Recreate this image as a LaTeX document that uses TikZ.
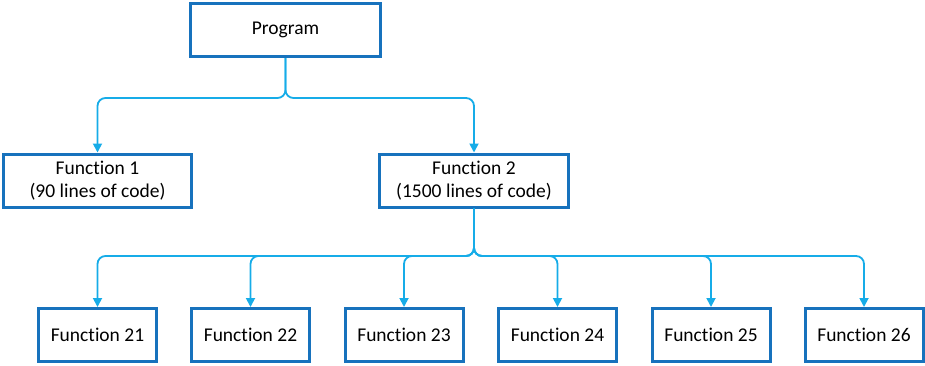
\documentclass[tikz,border=0pt]{standalone}
\usepackage{fontspec}
\setmainfont[RawFeature={-liga;-dlig}]{Carlito}
\usetikzlibrary{arrows.meta}
\definecolor{boxblue}{RGB}{23,114,189}
\definecolor{linkblue}{RGB}{22,172,232}
\begin{document}
\begin{tikzpicture}[x=1pt,y=-1pt,
  box/.style={draw=boxblue,line width=3pt,fill=white,minimum height=53pt,align=center,inner sep=0pt,font=\fontsize{19.5}{23}\selectfont},
  link/.style={draw=linkblue,line width=1.8pt,rounded corners=8pt,-{Triangle[length=9pt,width=9pt]}}]
\useasboundingbox (0,0) rectangle (925,365);
\node[box,minimum width=190pt] (prog) at (285.5,30) {Program};
\node[box,minimum width=188pt] (f1) at (97.5,180.5) {Function 1\\(90 lines of code)};
\node[box,minimum width=189pt] (f2) at (474,180.5) {Function 2\\(1500 lines of code)};
\foreach \i/\x in {21/97.5,22/250.5,23/404,24/557.5,25/711,26/864}{
  \node[box,minimum width=118pt] (f\i) at (\x,335) {Function \i};
}
\coordinate (b1) at (285.5,98);
\coordinate (b2) at (474,256);
\draw[link] (prog.south) -- (b1) -| (f1.north);
\draw[link] (prog.south) -- (b1) -| (f2.north);
\foreach \i in {21,22,23,24,25,26}{
  \draw[link] (f2.south) -- (b2) -| (f\i.north);
}
\end{tikzpicture}
\end{document}
